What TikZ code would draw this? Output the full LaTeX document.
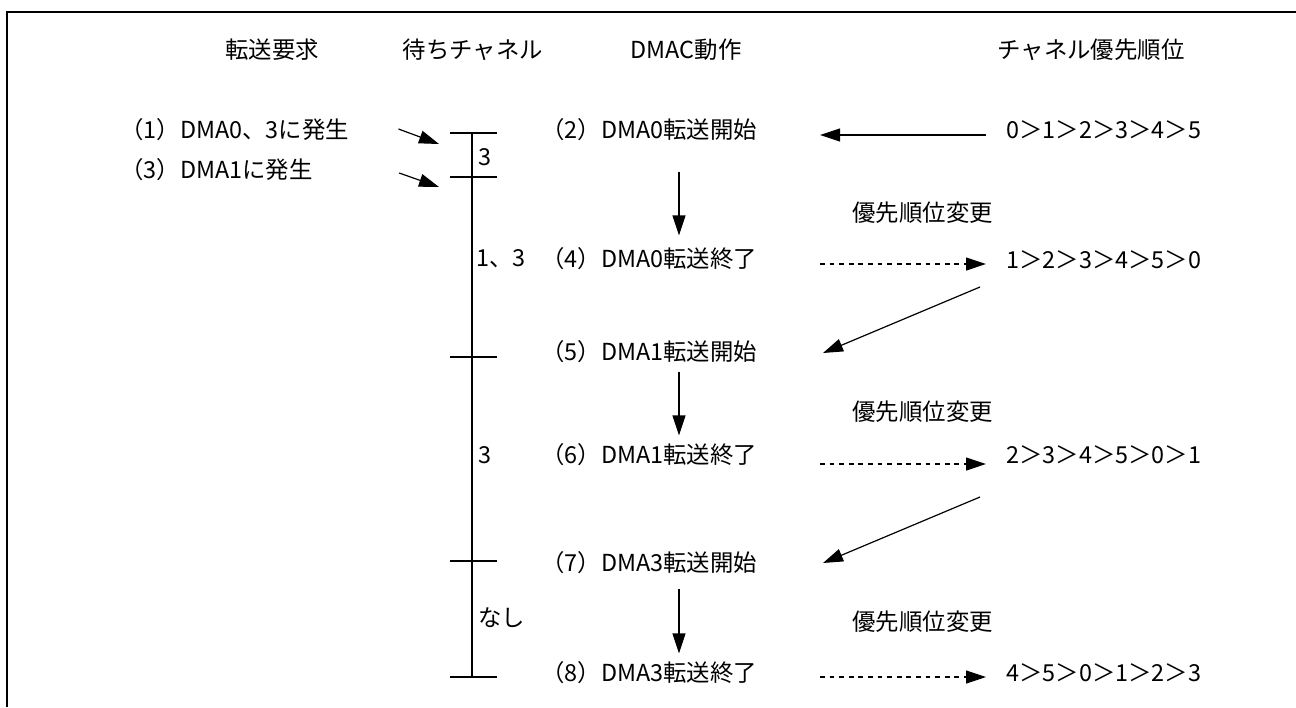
\documentclass[tikz,border=0pt]{standalone}
\usepackage{fontspec}
\setmainfont{Noto Sans CJK JP}
\usetikzlibrary{
    arrows.meta,
    positioning,
    calc
}
\tikzstyle{txt} = [
    inner sep=0pt,
    anchor=west,
    font=\fontsize{11.7pt}{14pt}\selectfont
]
\tikzstyle{head} = [
    inner sep=0pt,
    font=\fontsize{11.7pt}{14pt}\selectfont
]
\tikzstyle{arrow} = [
    -{Triangle[length=10pt,width=6.5pt]},
    line width=0.6pt
]
\tikzstyle{dasharrow} = [
    arrow,
    dash pattern=on 2.4pt off 2.4pt
]
\tikzstyle{tick} = [
    line width=1pt
]

\begin{document}
\begin{tikzpicture}[x=0.5pt, y=-0.5pt]
        \useasboundingbox (0,0) rectangle (1296,707);
        % Frame
        \draw[line width=1.3pt] (7,707) -- (7,12) -- (1296,12);

        % Headers
        \node[head] (hreq) at (272,50) {転送要求};
        \node[head] (hwait) at (473,50) {待ちチャネル};
        \node[head] (hdmac) at (686,50) {DMAC動作};
        \node[head] (hprio) at (1091,50) {チャネル優先順位};

        % Transfer requests
        \node[txt] (req1) at (120,130) {（1）DMA0、3に発生};
        \node[txt] (req3) at (120,170) {（3）DMA1に発生};

        % DMAC operations
        \node[txt] (op2) at (541,130) {（2）DMA0転送開始};
        \node[txt] (op4) at (541,259) {（4）DMA0転送終了};
        \node[txt] (op5) at (541,352) {（5）DMA1転送開始};
        \node[txt] (op6) at (541,455) {（6）DMA1転送終了};
        \node[txt] (op7) at (541,563) {（7）DMA3転送開始};
        \node[txt] (op8) at (541,673) {（8）DMA3転送終了};

        % Channel priorities
        \node[txt] (pr0) at (1006,130) {0＞1＞2＞3＞4＞5};
        \node[txt] (pr1) at (1006,260) {1＞2＞3＞4＞5＞0};
        \node[txt] (pr2) at (1006,455) {2＞3＞4＞5＞0＞1};
        \node[txt] (pr3) at (1006,673) {4＞5＞0＞1＞2＞3};
        \node[txt] (chg1) at (852,213) {優先順位変更};
        \node[txt] (chg2) at (852,412) {優先順位変更};
        \node[txt] (chg3) at (852,622) {優先順位変更};

        % Waiting channels
        \coordinate (q1) at (472,133);
        \coordinate (q2) at (472,177);
        \coordinate (q3) at (472,357);
        \coordinate (q4) at (472,561);
        \coordinate (q5) at (472,677);
        \draw[tick] (q1) -- (q5);
        \foreach \q in {q1,q2,q3,q4,q5}
            \draw[tick] ($(\q)+(-22,0)$) -- ($(\q)+(25,0)$);
        \node[txt] (w1) at (478,157) {3};
        \node[txt] (w2) at (476,259) {1、3};
        \node[txt] (w3) at (478,455) {3};
        \node[txt] (w4) at (478,618) {なし};

        % Request arrows
        \draw[arrow] ($(req1.east)+(49,-1)$) -- ($(q1)+(-33,11)$);
        \draw[arrow] ($(req3.east)+(86,3)$) -- ($(q2)+(-33,10)$);

        % Operation flow
        \coordinate (dcol) at (679,0);
        \coordinate (lcol) at (820,0);
        \coordinate (rcol) at (986,0);
        \draw[arrow, shorten <=15pt, shorten >=6pt] (op2.south -| dcol) -- (op4.north -| dcol);
        \draw[arrow, shorten <=4pt, shorten >=4pt] (op5.south -| dcol) -- (op6.north -| dcol);
        \draw[arrow, shorten <=7pt, shorten >=4pt] (op7.south -| dcol) -- (op8.north -| dcol);

        % Priority arrows
        \draw[arrow] ([yshift=-2.5pt]pr0.west -| rcol) -- ([yshift=-2.5pt]op2.east -| lcol);
        \draw[dasharrow] ([yshift=-2.5pt]op4.east -| lcol) -- ([yshift=-2pt]pr1.west -| rcol);
        \draw[dasharrow] ([yshift=-4.5pt]op6.east -| lcol) -- ([yshift=-4.5pt]pr2.west -| rcol);
        \draw[dasharrow] ([yshift=-2pt]op8.east -| lcol) -- ([yshift=-2pt]pr3.west -| rcol);
        \draw[arrow] ($(pr1.west -| rcol)+(-6,27)$) -- ($(op5.east -| lcol)+(3,1)$);
        \draw[arrow] ($(pr2.west -| rcol)+(-6,42)$) -- ($(op7.east -| lcol)+(3,0)$);
    \end{tikzpicture}
\end{document}
